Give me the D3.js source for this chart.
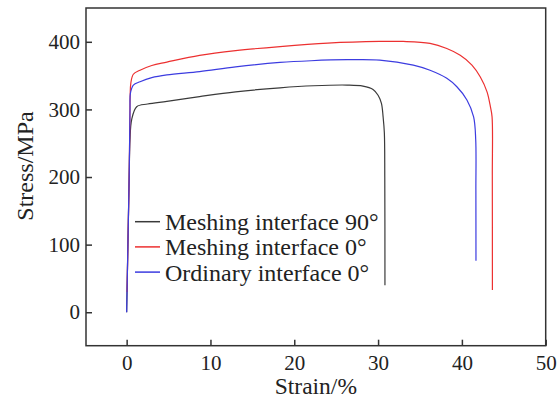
<!DOCTYPE html>
<html>
<head>
<meta charset="utf-8">
<script src="https://cdn.jsdelivr.net/npm/d3@7"></script>
</head>
<body style="margin:0">
<svg id="chart" width="560" height="400" font-family="Liberation Serif"></svg>
<script>
// ---- data ----
const seriesNames = ["Meshing interface 90°", "Meshing interface 0°", "Ordinary interface 0°"];
const seriesColors = ["#3a3a3a", "#ec3030", "#3c3ce0"];
const xTicks = [0, 10, 20, 30, 40, 50];
const yTicks = [0, 100, 200, 300, 400];

const meshing90 = [
  [0,0],[0.15,100],[0.3,200],[0.4,255],[0.6,285],[1.2,304],[2.5,308],[4.8,312],[8.7,319],
  [13,326],[18.3,332],[22.3,335],[26.3,336],[28.2,334.5],[29.4,329.6],[30.0,321],[30.4,309],
  [30.6,289],[30.75,265],[30.8,200],[30.82,40]
];
const meshing0 = [
  [0.05,30],[0.15,100],[0.3,200],[0.38,280],[0.42,320],[0.5,339],[0.8,352],[1.6,358],[3,365],
  [4.8,370],[8.7,380],[13,387],[18.3,393],[24,398],[30.2,400.5],[33,400.5],[36.2,397.6],
  [38.2,390],[39.8,380],[41.2,365.6],[42.2,348],[43.0,326],[43.4,304],[43.6,289],[43.63,200],[43.64,33]
];
const ordinary0 = [
  [0,0],[0.15,100],[0.3,200],[0.4,300],[0.45,324],[0.8,336],[1.6,341],[3,347],[4.8,351],
  [8.7,356],[13,363],[18.3,369.5],[22,372],[26.3,373.5],[30.2,373],[34.2,365.6],[36.2,358],
  [38.2,346],[39.4,333.5],[40.6,314],[41.4,289],[41.65,255],[41.67,180],[41.68,76]
];
const seriesData = [meshing90, meshing0, ordinary0];

// ---- layout ----
const svg = d3.select("#chart");
const m = {left: 86, top: 8, right: 545.7, bottom: 345.7};
const x = d3.scaleLinear().domain([-4.85, 50]).range([m.left, m.right]);
const y = d3.scaleLinear().domain([-49.5, 450]).range([m.bottom, m.top]);

// lines
const line = d3.line().x(d => x(d[0])).y(d => y(d[1])).curve(d3.curveCatmullRom.alpha(0.5));
[0, 1, 2].forEach(i => {
  svg.append("path")
    .datum(seriesData[i])
    .attr("fill", "none")
    .attr("stroke", seriesColors[i])
    .attr("stroke-width", 1.2)
    .attr("d", line);
});

// frame
svg.append("rect")
  .attr("x", m.left).attr("y", m.top)
  .attr("width", m.right - m.left).attr("height", m.bottom - m.top)
  .attr("fill", "none").attr("stroke", "#333").attr("stroke-width", 1.5);

// axes (inward ticks)
const xAxis = svg.append("g").attr("transform", `translate(0,${m.bottom})`)
  .call(d3.axisBottom(x).tickValues(xTicks).tickSizeInner(-6).tickSizeOuter(0).tickPadding(10));
const yAxis = svg.append("g").attr("transform", `translate(${m.left},0)`)
  .call(d3.axisLeft(y).tickValues(yTicks).tickSizeInner(-6).tickSizeOuter(0).tickPadding(6));
[xAxis, yAxis].forEach(g => {
  g.attr("font-family", "Liberation Serif").attr("font-size", 21);
  g.select(".domain").remove();
  g.selectAll(".tick line").attr("stroke", "#333").attr("stroke-width", 1.5);
  g.selectAll(".tick text").attr("fill", "#222");
});
xAxis.selectAll(".tick text").attr("dy", "0.71em").attr("y", 9);

// axis titles
svg.append("text")
  .attr("x", (m.left + m.right) / 2).attr("y", 394)
  .attr("text-anchor", "middle").attr("font-size", 23.5).attr("fill", "#222")
  .text("Strain/%");
svg.append("text")
  .attr("transform", "translate(33,166) rotate(-90)")
  .attr("text-anchor", "middle").attr("font-size", 24).attr("fill", "#222")
  .text("Stress/MPa");

// legend
[0, 1, 2].forEach(i => {
  const ly = 221.7 + i * 25.2;
  svg.append("line")
    .attr("x1", 135).attr("x2", 160).attr("y1", ly).attr("y2", ly)
    .attr("stroke", seriesColors[i]).attr("stroke-width", 1.5);
  svg.append("text")
    .attr("x", 165).attr("y", ly).attr("dy", "0.35em")
    .attr("font-size", 24).attr("fill", "#222")
    .text(seriesNames[i]);
});
</script>
</body>
</html>
